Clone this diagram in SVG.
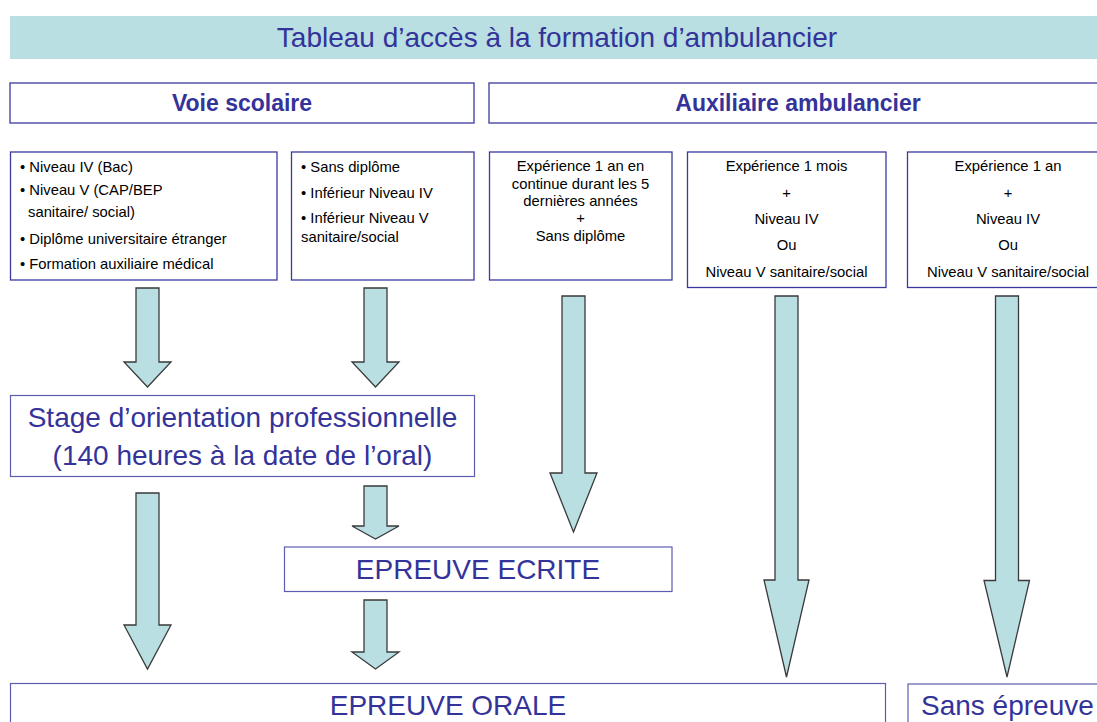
<svg xmlns="http://www.w3.org/2000/svg" width="1097" height="722" viewBox="0 0 1097 722">
<style>
.box{fill:#fff;stroke:#3a3a9e;stroke-width:1.3}
.big{fill:#fff;stroke:#5c5cb0;stroke-width:1.2}
.arrow{fill:#b9dfe2;stroke:#3a3a3a;stroke-width:1.3;stroke-linejoin:miter}
.t{font-family:"Liberation Sans",Arial,sans-serif;fill:#333399}
.h{font-family:"Liberation Sans",Arial,sans-serif;fill:#333399;font-weight:bold;font-size:23px;text-anchor:middle}
.s{font-family:"Liberation Sans",Arial,sans-serif;fill:#000;font-size:14.8px}
.c{text-anchor:middle}
.l{font-family:"Liberation Sans",Arial,sans-serif;fill:#333399;font-size:28px;text-anchor:middle}
</style>
<g id="title">
<rect x="10" y="16" width="1087" height="43" fill="#b9dfe2"/>
<text class="t" x="557" y="47" font-size="28" text-anchor="middle">Tableau d’accès à la formation d’ambulancier</text>
</g>
<g id="voie-scolaire">
<rect class="box" x="10" y="83" width="464" height="40"/>
<text class="h" x="242" y="111">Voie scolaire</text>
</g>
<g id="auxiliaire">
<rect class="box" x="489" y="83" width="620" height="40"/>
<text class="h" x="798" y="111">Auxiliaire ambulancier</text>
</g>
<g id="box-niveaux">
<rect class="box" x="10.5" y="152" width="266.5" height="128"/>
<text class="s" x="20" y="172">• Niveau IV (Bac)</text>
<text class="s" x="20" y="195">• Niveau V (CAP/BEP</text>
<text class="s" x="28" y="217">sanitaire/ social)</text>
<text class="s" x="20" y="244">• Diplôme universitaire étranger</text>
<text class="s" x="20" y="269">• Formation auxiliaire médical</text>
</g>
<g id="box-sans-diplome">
<rect class="box" x="291.5" y="152" width="182.5" height="128"/>
<text class="s" x="301" y="172">• Sans diplôme</text>
<text class="s" x="301" y="198">• Inférieur Niveau IV</text>
<text class="s" x="301" y="223">• Inférieur Niveau V</text>
<text class="s" x="301" y="242">sanitaire/social</text>
</g>
<g id="box-exp-5ans">
<rect class="box" x="489.5" y="152" width="182.5" height="128"/>
<text class="s c" x="580.5" y="171">Expérience 1 an en</text>
<text class="s c" x="580.5" y="189">continue durant les 5</text>
<text class="s c" x="580.5" y="206">dernières années</text>
<text class="s c" x="580.5" y="223">+</text>
<text class="s c" x="580.5" y="241">Sans diplôme</text>
</g>
<g id="box-exp-1mois">
<rect class="box" x="687.5" y="152" width="198.5" height="135.5"/>
<text class="s c" x="786.5" y="171">Expérience 1 mois</text>
<text class="s c" x="786.5" y="198">+</text>
<text class="s c" x="786.5" y="224">Niveau IV</text>
<text class="s c" x="786.5" y="250">Ou</text>
<text class="s c" x="786.5" y="277">Niveau V sanitaire/social</text>
</g>
<g id="box-exp-1an">
<rect class="box" x="907.5" y="152" width="201" height="135.5"/>
<text class="s c" x="1008" y="171">Expérience 1 an</text>
<text class="s c" x="1008" y="198">+</text>
<text class="s c" x="1008" y="224">Niveau IV</text>
<text class="s c" x="1008" y="250">Ou</text>
<text class="s c" x="1008" y="277">Niveau V sanitaire/social</text>
</g>
<g id="stage">
<rect class="big" x="10.5" y="395.5" width="464" height="81"/>
<text class="l" x="242.5" y="427">Stage d’orientation professionnelle</text>
<text class="l" x="242.5" y="465">(140 heures à la date de l’oral)</text>
</g>
<g id="epreuve-ecrite">
<rect class="big" x="284.5" y="547" width="387.5" height="44.5"/>
<text class="l" x="478" y="578.5">EPREUVE ECRITE</text>
</g>
<g id="epreuve-orale">
<rect class="big" x="10.5" y="683.5" width="875" height="50"/>
<text class="l" x="448" y="715">EPREUVE ORALE</text>
</g>
<g id="sans-epreuve">
<rect class="big" x="908" y="684" width="200" height="50"/>
<text class="t" x="921" y="715" font-size="28">Sans épreuve</text>
</g>
<g id="connectors">
<polygon class="arrow" points="136,288 159,288 159,362 171,362 147.5,387 124,362 136,362"/>
<polygon class="arrow" points="364,288 387,288 387,362 399,362 375.5,387 352,362 364,362"/>
<polygon class="arrow" points="562,296 585,296 585,473 597,473 573.5,532 550,473 562,473"/>
<polygon class="arrow" points="775,296 798,296 798,580 809,580 786.5,677 764,580 775,580"/>
<polygon class="arrow" points="995.5,296 1018.5,296 1018.5,580.5 1029.5,580.5 1007,677 984,580.5 995.5,580.5"/>
<polygon class="arrow" points="136,493 159,493 159,625 171,625 147.5,669 124,625 136,625"/>
<polygon class="arrow" points="364,486 387,486 387,526 399,526 375.5,539 352,526 364,526"/>
<polygon class="arrow" points="364,600 387,600 387,652 399,652 375.5,669 352,652 364,652"/>
</g>
</svg>
